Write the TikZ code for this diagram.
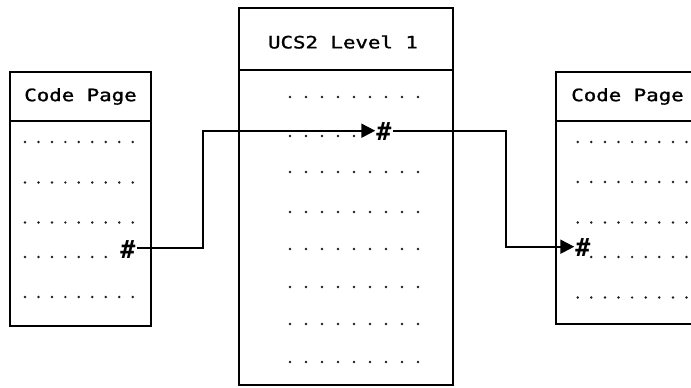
\documentclass[tikz,border=0pt]{standalone}
\usepackage{fontspec}
\usepackage{graphicx}
\newfontfamily\pixfont[FakeBold=1.2]{DejaVu Sans Mono}
\newfontfamily\pixbold{DejaVu Sans Mono Bold}
\usetikzlibrary{arrows.meta}
\definecolor{dotc}{RGB}{30,30,30}
\newcommand{\ptxt}[1]{\scalebox{1.22}[1]{\pixfont\fontsize{17}{17}\selectfont #1}}
\begin{document}
\begin{tikzpicture}[x=1pt,y=-1pt,
  frame/.style={draw, line width=2pt, rectangle, inner sep=0pt, outer sep=0pt},
  hashmark/.style={inner sep=1pt, font=\pixbold\fontsize{25}{25}\selectfont},
  conn/.style={line width=2pt, -{Triangle[length=14pt,width=14pt]}},
  dot/.style={fill=dotc}]
\useasboundingbox (0,0) rectangle (691,388);
\clip (0,0) rectangle (691,388);
\fill[white] (0,0) rectangle (691,388);

% left code page
\node[frame, minimum width=141pt, minimum height=49pt] (Lh) at (80.5,96.5) {\ptxt{Code Page}};
\node[frame, minimum width=141pt, minimum height=205pt] (Lb) at (80.5,223.5) {};
% middle UCS2
\node[frame, minimum width=214pt, minimum height=62pt] (Mh) at (346,39) {};
\node (Mt) at (343,42) {\ptxt{UCS2 Level 1}};
\node[frame, minimum width=214pt, minimum height=315pt] (Mb) at (346,227.5) {};
% right code page
\node[frame, minimum width=143pt, minimum height=49pt] (Rh) at (627.5,96.5) {\ptxt{Code Page}};
\node[frame, minimum width=143pt, minimum height=203pt] (Rb) at (627.5,222.5) {};

% dots left
\foreach \yy in {142,182.5,222.5,297}
  \foreach \i in {0,...,8} \fill[dot] (25+13.46*\i,\yy) circle (1.35pt);
\foreach \i in {0,...,6} \fill[dot] (25+13.46*\i,257) circle (1.35pt);
% dots middle
\foreach \yy in {97,172,212,249,287,324,362}
  \foreach \i in {0,...,8} \fill[dot] (290+16*\i,\yy) circle (1.35pt);
\foreach \i in {0,...,4} \fill[dot] (290+16*\i,136) circle (1.35pt);
% dots right
\foreach \yy in {142,182,222.5,297.5}
  \foreach \i in {0,...,8} \fill[dot] (577.7+13.6*\i,\yy) circle (1.35pt);
\foreach \i in {1,...,8} \fill[dot] (577.7+13.6*\i,257) circle (1.35pt);

% hash marks
\node[hashmark] (hL) at (128,249.5) {\#};
\node[hashmark] (hM) at (384,132) {\#};
\node[hashmark] (hR) at (583,248) {\#};

\draw[conn] (hL.east |- 0,248.3) -- (203,248.3) |- (hM.west |- 0,130.7);
\draw[conn] (hM.east |- 0,130.7) -- (506,130.7) |- (hR.west |- 0,246.7);
\end{tikzpicture}
\end{document}
